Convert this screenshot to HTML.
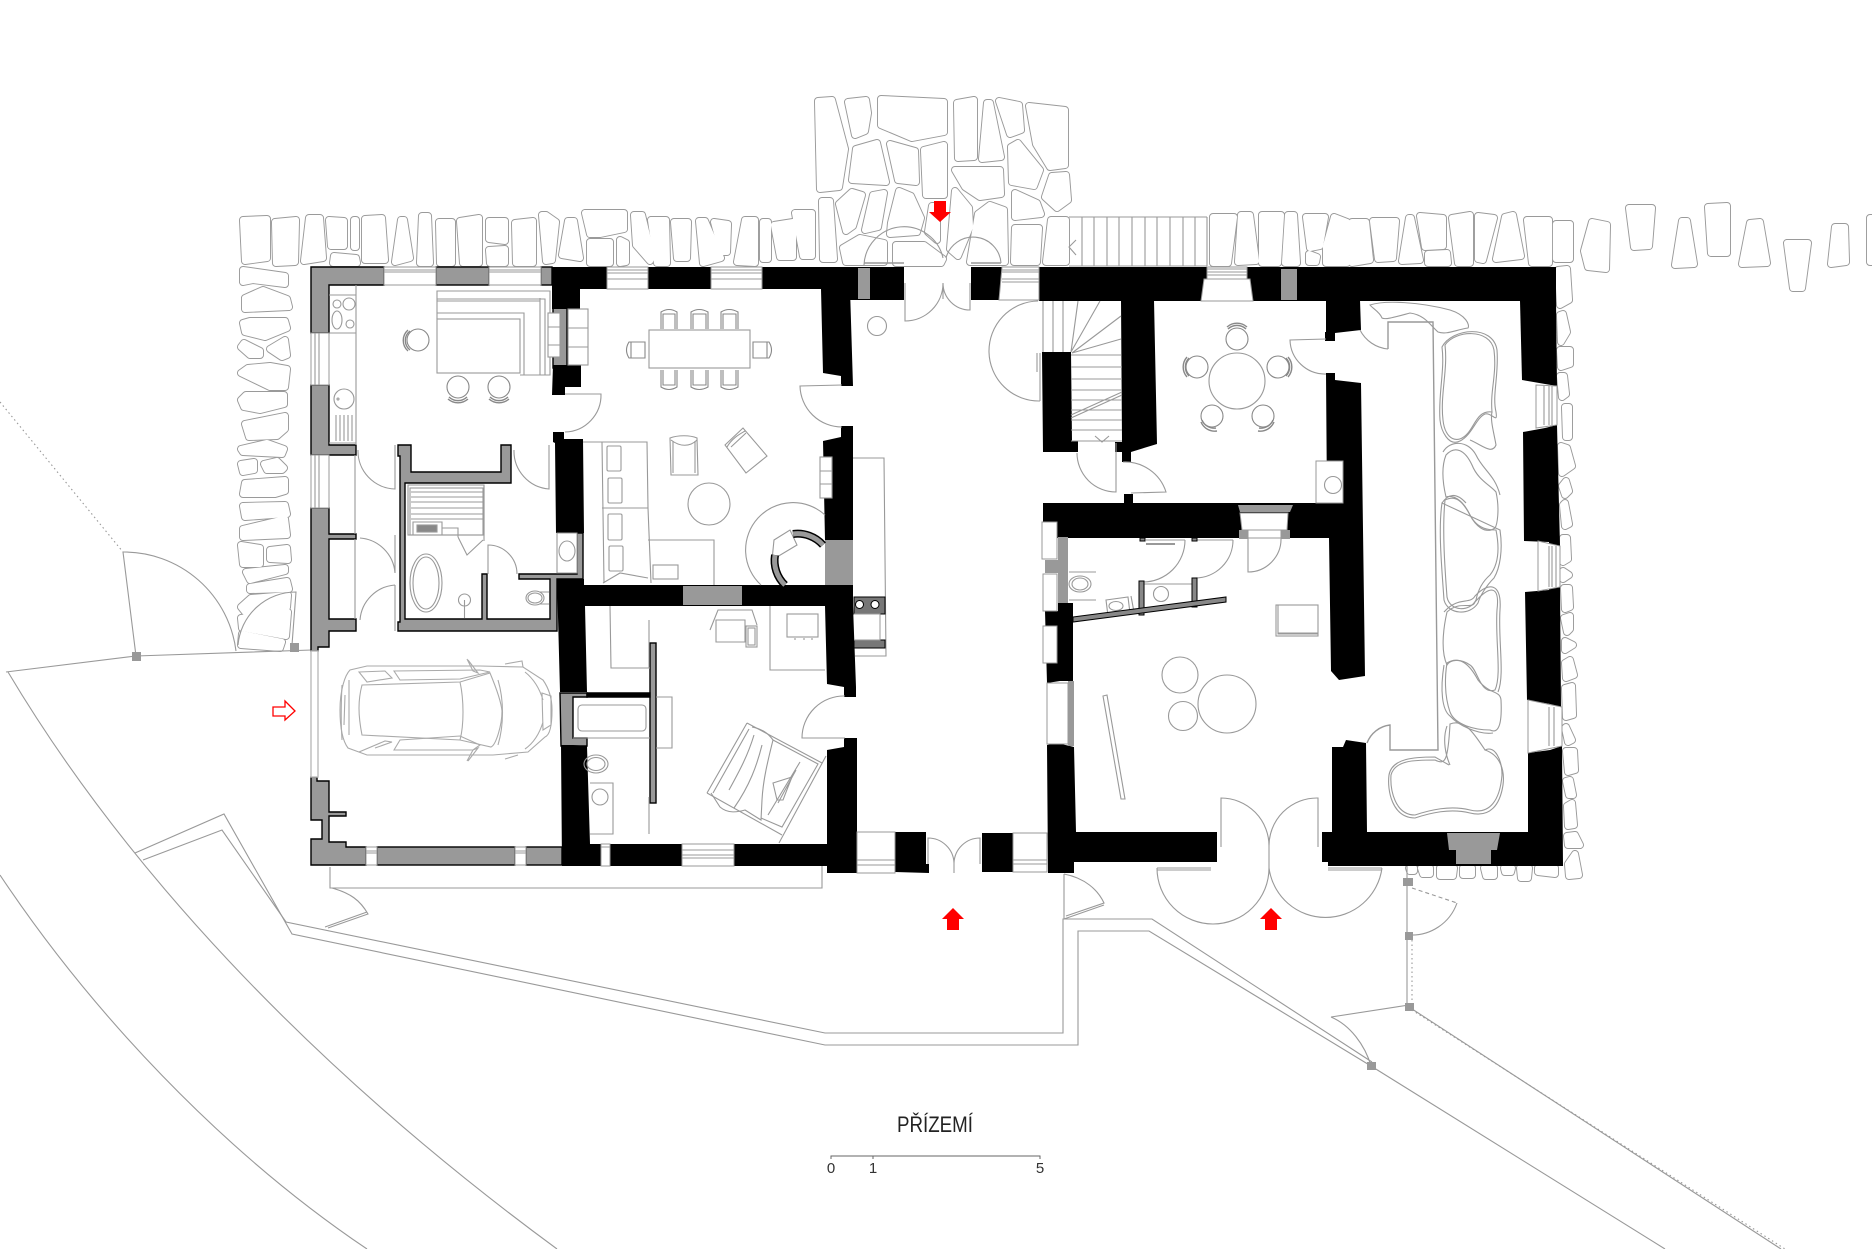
<!DOCTYPE html>
<html lang="cs"><head><meta charset="utf-8"><title>Přízemí</title>
<style>html,body{margin:0;padding:0;background:#fff}svg{display:block}</style></head>
<body>
<svg xmlns="http://www.w3.org/2000/svg" width="1872" height="1249" viewBox="0 0 1872 1249">
<rect width="1872" height="1249" fill="#fff"/>
<defs>
<g id="st">
<!-- top row west -->
<polygon points="243,220 267,219 267,258 245,261"/><polygon points="275,222 296,220 295,262 276,263"/><polygon points="309,218 320,218 323,258 304,261"/><polygon points="329,220 344,221 344,246 331,246"/><polygon points="354,220 356,220 356,247 354,247"/><polygon points="365,219 382,218 385,260 365,260"/><polygon points="334,256 356,258 357,263 333,263"/><polygon points="401,220 404,220 410,258 395,262"/><polygon points="422,216 428,216 430,263 420,263"/><polygon points="439,222 452,222 452,263 440,263"/><polygon points="460,221 479,218 479,263 463,263"/><polygon points="489,221 505,221 505,241 489,239"/><polygon points="489,250 505,249 505,263 490,263"/><polygon points="515,223 533,221 533,263 516,263"/><polygon points="542,215 546,215 556,222 552,260 546,261"/><polygon points="568,221 574,221 580,258 562,255"/><polygon points="585,213 624,213 624,229 600,234 590,234"/><polygon points="590,242 610,242 610,263 590,263"/><polygon points="620,240 626,243 626,262 620,263"/><polygon points="634,215 642,215 652,256 650,261 636,245"/><polygon points="651,220 666,220 667,263 657,263"/><polygon points="674,222 688,222 687,258 677,258"/><polygon points="699,221 705,221 721,258 703,263"/><polygon points="714,222 728,224 727,252 722,252"/><polygon points="745,220 755,220 755,263 737,262"/><polygon points="763,222 768,222 768,259 763,259"/><polygon points="774,225 793,222 793,257 780,257"/><polygon points="795,213 812,213 812,256 803,256"/>
<!-- block above door -->
<polygon points="818,101 832,100 845,149 839,187 820,189"/><polygon points="848,102 866,100 868,113 865,131 855,135"/><polygon points="881,99 944,102 944,132 912,138 881,125"/><polygon points="856,149 877,143 886,182 852,180"/><polygon points="890,144 915,151 916,182 898,180"/><polygon points="924,150 944,145 944,195 926,195"/><polygon points="957,103 974,100 974,157 958,158"/><polygon points="987,103 990,103 1001,157 982,159"/><polygon points="999,101 1019,105 1021,130 1010,134"/><polygon points="1029,106 1065,110 1065,165 1050,167 1036,144"/><polygon points="1018,143 1040,170 1034,186 1012,182 1011,147"/><polygon points="955,170 1000,170 1001,194 980,197 965,187"/><polygon points="1052,176 1066,175 1068,200 1057,208 1045,197"/><polygon points="822,201 830,201 834,259 823,259"/><polygon points="852,192 862,195 853,226 846,231 839,204"/><polygon points="873,195 884,193 878,227 865,230"/><polygon points="899,191 911,196 921,218 917,232 890,234 891,223"/><polygon points="932,206 937,206 937,240 928,232"/><polygon points="955,191 969,208 970,227 958,256 950,249"/><polygon points="1015,193 1037,203 1041,214 1015,217"/><polygon points="978,214 990,205 1004,210 1005,262 970,262"/><polygon points="1015,228 1039,228 1037,262 1014,262"/><polygon points="1051,220 1066,220 1066,262 1046,262"/><polygon points="843,248 860,238 884,243 884,262 846,262"/><polygon points="896,245 924,245 943,259 941,263 896,263"/>
<!-- top row east -->
<polygon points="1213,217 1234,217 1228,263 1213,263"/><polygon points="1241,215 1250,215 1256,261 1238,262"/><polygon points="1262,215 1281,215 1278,263 1262,263"/><polygon points="1288,215 1294,215 1297,263 1285,263"/><polygon points="1306,217 1325,217 1320,246 1310,248"/><polygon points="1309,254 1317,257 1316,262 1309,262"/><polygon points="1334,217 1347,222 1347,263 1326,263 1326,246"/><polygon points="1352,222 1366,222 1370,260 1352,263"/><polygon points="1373,221 1396,221 1393,258 1378,259"/><polygon points="1409,218 1411,218 1420,260 1402,261"/><polygon points="1420,216 1443,218 1443,246 1425,247"/><polygon points="1428,254 1447,253 1448,263 1428,263"/><polygon points="1452,218 1470,215 1470,263 1458,263"/><polygon points="1478,216 1494,218 1483,260 1478,259"/><polygon points="1505,217 1513,215 1521,256 1496,259"/><polygon points="1527,220 1549,220 1549,263 1532,263"/><polygon points="1556,224 1570,224 1570,259 1556,259"/><polygon points="1592,222 1607,225 1606,269 1588,267 1584,251"/><polygon points="1629,208 1652,208 1649,246 1634,247"/><polygon points="1682,221 1687,221 1694,264 1675,265"/><polygon points="1708,207 1727,206 1727,253 1711,253"/><polygon points="1750,223 1760,222 1767,263 1742,264"/><polygon points="1787,243 1808,243 1802,288 1793,288"/><polygon points="1835,227 1845,227 1846,262 1831,264"/><polygon points="1870,218 1880,218 1880,262 1870,262"/>
<!-- east column -->
<polygon points="1558,270 1567,269 1569,300 1560,305"/><polygon points="1560,315 1563,314 1567,332 1561,342"/><polygon points="1560,350 1570,350 1570,364 1561,367"/><polygon points="1560,376 1564,376 1566,394 1562,397"/><polygon points="1565,407 1569,407 1569,437 1566,437"/><polygon points="1561,446 1567,448 1572,466 1562,473"/><polygon points="1562,486 1566,481 1569,491 1565,495"/><polygon points="1563,505 1565,503 1569,524 1565,526"/><polygon points="1563,538 1567,538 1568,559 1563,562"/><polygon points="1563,571 1569,575 1563,579"/><polygon points="1564,588 1569,588 1570,607 1565,609"/><polygon points="1564,618 1570,616 1570,629 1567,632"/><polygon points="1565,641 1573,645 1565,650"/><polygon points="1565,663 1570,660 1574,675 1566,678"/><polygon points="1565,688 1572,686 1573,715 1566,717"/><polygon points="1565,728 1566,727 1572,740 1568,742"/><polygon points="1566,751 1574,751 1575,770 1568,772"/><polygon points="1566,781 1570,780 1573,795 1569,795"/><polygon points="1567,806 1572,803 1574,825 1568,826"/><polygon points="1567,836 1575,835 1580,845 1568,845"/><polygon points="1568,864 1575,854 1579,875 1569,876"/>
<!-- bottom row east -->
<polygon points="1409,868 1414,868 1414,871 1410,871"/><polygon points="1421,868 1430,868 1430,874 1423,874"/><polygon points="1440,868 1454,868 1453,876 1440,876"/><polygon points="1463,868 1472,868 1472,875 1463,875"/><polygon points="1484,868 1494,868 1494,876 1486,876"/><polygon points="1504,868 1512,868 1511,872 1505,872"/><polygon points="1520,868 1529,868 1528,878 1521,878"/><polygon points="1538,868 1555,868 1555,874 1538,872"/>
<!-- west column -->
<polygon points="243,270 285,276 285,284 253,280 243,282"/><polygon points="245,298 263,290 287,299 289,307 245,309"/><polygon points="243,323 250,321 285,321 287,328 265,337 245,332"/><polygon points="241,347 244,343 260,351 260,355 250,355"/><polygon points="270,349 285,340 287,355 282,357"/><polygon points="241,373 248,368 270,366 287,369 285,387 270,387"/><polygon points="241,400 246,395 284,395 284,404 260,410 244,407"/><polygon points="245,424 285,416 285,429 277,436 249,437"/><polygon points="241,449 267,443 284,449 282,454 243,452"/><polygon points="241,464 254,462 254,470 243,472"/><polygon points="264,464 277,461 284,468 282,470 267,470"/><polygon points="245,483 285,480 285,491 275,494 243,494"/><polygon points="243,506 285,505 287,514 245,517"/><polygon points="243,529 285,519 287,535 243,537"/><polygon points="241,545 260,548 260,564 243,564"/><polygon points="270,550 287,548 288,560 270,559"/><polygon points="246,572 285,568 285,571 250,580"/><polygon points="250,587 287,581 289,589 250,590"/><polygon points="241,607 251,598 288,595 287,607 245,612"/><polygon points="241,618 288,612 286,636 242,628"/><polygon points="242,634 282,642 280,648 241,645"/>
</g>
</defs>
<use href="#st" fill="#9a9a9a" stroke="#9a9a9a" stroke-width="8" stroke-linejoin="round"/>
<use href="#st" fill="#fff" stroke="#fff" stroke-width="6.1" stroke-linejoin="round"/>

<g fill="none" stroke="#999" stroke-width="1.1">
<!-- stair stones -->
<path d="M1069,217H1207M1069,266H1207M1082,217V266M1094,217V266M1107,217V266M1119,217V266M1132,217V266M1145,217V266M1157,217V266M1170,217V266M1183,217V266M1195,217V266M1207,217V266M1076,240L1069,247L1076,255"/>
<!-- site lines -->
<path d="M6,672L136,656L312,650"/>
<path d="M8,672C120,860 300,1060 557,1249"/>
<path d="M0,875C90,1010 220,1150 367,1249"/>
<path d="M135,853L224,814L292,934L825,1045L1078,1045L1078,931L1149,931L1371,1066L1665,1249"/>
<path d="M143,860L222,830L286,922L825,1033L1063,1033L1063,919L1152,919L1372,1062"/>
<path d="M330,867V888H822V866"/>
<path d="M332,888C350,893 360,900 368,914L328,928M325,927L367,912"/>
<path d="M1064,874C1085,878 1098,890 1104,903L1066,916M1064,919L1104,905M1064,919V874"/>
<!-- left gates -->
<path d="M136,656L123,552A113,113 0 0 1 236,651"/>
<path d="M292,645L296,592A58,58 0 0 0 238,645"/>
<path stroke-dasharray="1.5 3" d="M0,402L123,552"/>
<!-- right gates -->
<path d="M1407,866V1007M1457,903A48,48 0 0 1 1409,935M1331,1017L1409,1005M1331,1017C1350,1025 1365,1045 1371,1066"/>
<path stroke-dasharray="4 3" d="M1412,888L1457,903"/>
<path stroke-dasharray="1.5 3" d="M1412,940V1005M1412,1010L1785,1249"/>
<path d="M1409,1007L1781,1249"/>
<!-- top door arcs -->
<path d="M864,265A40,40 0 0 1 943,258M946,258A28,28 0 0 1 1001,263"/>
<path stroke-width="1.6" d="M864,263H904M971,263H1001"/>
</g>
<g fill="#999"><rect x="290" y="643" width="9" height="9"/><rect x="132" y="652" width="9" height="9"/><rect x="1403" y="878" width="10" height="8"/><rect x="1405" y="932" width="8" height="8"/><rect x="1405" y="1003" width="9" height="8"/><rect x="1367" y="1062" width="9" height="8"/></g>

<!-- gray walls -->
<g fill="#999" stroke="#000" stroke-width="1.4">
<polygon points="311,267 384,267 384,285 329,285 329,333 311,333"/>
<rect x="436" y="267" width="53" height="18"/><rect x="541" y="267" width="11" height="18"/>
<polygon points="311,385 329,385 329,445 356,445 356,455 311,455"/>
<polygon points="311,508 329,508 329,534 356,534 356,539 329,539 329,619 356,619 356,631 329,631 329,647 318,647 318,651 311,651"/>
<polygon points="311,777 317,777 317,781 329,781 329,812 346,812 346,816 329,816 329,842 346,842 346,847 366,847 366,865 311,865 311,839 322,839 322,820 311,820"/>
<rect x="377" y="847" width="138" height="18"/><rect x="526" y="847" width="36" height="18"/>
<polygon points="398,445 411,445 411,472 501,472 501,445 511,445 511,483 405,483 405,619 482,619 482,574 487,574 487,619 550,619 550,579 519,579 519,574 577,574 577,533 583,533 583,579 557,579 557,631 398,631 398,622 400,622 400,456 398,456"/>
<rect x="553" y="308" width="14" height="60"/>
<polygon points="560,693 587,693 587,697 573,697 573,738 587,738 587,746 561,746"/>
<rect x="650" y="643" width="6" height="160"/>
<polygon points="587,693 650,693 650,697 587,697" fill="#000"/>
</g>
<rect x="311" y="651" width="7" height="126" fill="#fff" stroke="#bbb" stroke-width="1.4"/>

<!-- black walls -->
<g fill="#000">
<rect x="552" y="267" width="352" height="22"/><polygon points="850,289 904,289 904,300 850,300"/>
<polygon points="821,289 850,289 853,386 841,386 841,376 823,373"/>
<rect x="552" y="267" width="28" height="42"/>
<polygon points="553,365 581,365 581,387 565,387 565,395 552,395"/>
<polygon points="553,432 564,432 564,439 583,439 584,533 556,533 555,443 553,442"/>
<polygon points="557,579 584,579 584,585 853,585 853,606 585,606 587,692 560,692"/>
<polygon points="561,745 573,745 587,746 590,844 857,844 857,866 562,866"/>
<polygon points="825,606 853,606 856,687 856,697 844,697 844,687 827,684"/>
<polygon points="844,738 857,738 857,873 827,873 827,750 844,747"/>
<polygon points="823,441 841,437 841,426 853,426 853,540 825,540"/>
<polygon points="895,832 926,832 926,864 929,864 929,873 895,872"/>
<polygon points="971,267 1002,267 999,300 971,300"/>
<rect x="1039" y="267" width="517" height="34"/>
<polygon points="1121,300 1154,300 1157,444 1131,452 1131,462 1122,462 1122,452 1115,452 1115,442 1122,442"/>
<polygon points="1042,352 1071,352 1072,441 1078,441 1078,452 1043,452"/>
<rect x="1043" y="503" width="300" height="35"/><rect x="1124" y="494" width="9" height="10"/>
<polygon points="1326,300 1360,300 1361,330 1335,333 1335,341 1325,341 1325,332 1326,332"/>
<polygon points="1326,373 1335,373 1335,380 1361,383 1365,676 1339,680 1331,671 1329,538 1327,503"/>
<polygon points="1045,611 1058,611 1058,603 1073,603 1073,681 1060,681 1047,683"/>
<polygon points="1047,745 1057,743 1074,747 1076,832 1217,832 1217,862 1074,862 1074,873 1048,873"/>
<polygon points="1322,832 1332,832 1332,747 1343,747 1346,740 1366,743 1367,832 1528,832 1528,753 1550,750 1562,746 1563,866 1328,866 1328,862 1322,862"/>
<rect x="982" y="833" width="31" height="39"/>
<polygon points="1520,301 1556,301 1557,386 1545,384 1522,380"/>
<polygon points="1523,432 1545,428 1557,425 1560,546 1549,546 1549,542 1524,541"/>
<polygon points="1525,592 1549,590 1549,587 1560,587 1561,707 1550,704 1527,700"/>
</g>
<!-- gray in black -->
<g fill="#999">
<rect x="683" y="586" width="59" height="19"/><rect x="858" y="268" width="12" height="31"/><rect x="1281" y="269" width="16" height="31"/>
<rect x="825" y="540" width="28" height="45"/>
<polygon points="1238,505 1293,505 1290,512 1240,512"/>
<rect x="1239" y="530" width="9" height="9"/><rect x="1281" y="530" width="9" height="9"/>
<polygon points="1447,833 1500,833 1497,850 1491,850 1491,864 1456,864 1456,850 1449,850"/>
<rect x="1058" y="537" width="10" height="66"/><rect x="1045" y="560" width="23" height="13"/><rect x="1068" y="681" width="6" height="65"/>
</g>
<!-- windows -->
<g fill="#fff" stroke="#999" stroke-width="1">
<rect x="384" y="267" width="52" height="18"/><rect x="489" y="267" width="52" height="18"/>
<rect x="607" y="267" width="41" height="22"/><rect x="711" y="267" width="51" height="22"/>
<rect x="311" y="333" width="18" height="52"/><rect x="311" y="455" width="18" height="53"/>
<rect x="366" y="847" width="11" height="18"/><rect x="515" y="847" width="11" height="18"/>
<rect x="601" y="844" width="9" height="22"/><rect x="682" y="844" width="52" height="22"/>
<rect x="857" y="832" width="38" height="41"/><rect x="1013" y="833" width="34" height="39"/>
<rect x="1207" y="267" width="40" height="12"/>
<polygon points="1002,267 1039,267 1039,300 999,300"/>
<polygon points="1204,279 1250,279 1253,301 1201,301"/>
<polygon points="1240,513 1288,513 1287,530 1242,530"/><rect x="1248" y="530" width="33" height="8"/>
<rect x="1042" y="522" width="15" height="37"/><rect x="1043" y="574" width="14" height="37"/><rect x="1043" y="626" width="14" height="37"/>
<rect x="1047" y="683" width="21" height="61"/>
<rect x="1316" y="461" width="27" height="42"/>
<polygon points="1536,385 1557,386 1557,425 1536,428"/><polygon points="1538,541 1560,546 1560,587 1538,591"/><polygon points="1528,700 1562,707 1562,746 1528,753"/>
<rect x="557" y="533" width="20" height="40"/>
</g>
<g fill="none" stroke="#999" stroke-width="1.1">
<path d="M384,270H436M384,272H436M489,270H541M489,272H541M607,270H648M607,273H648M607,279H648M711,270H762M711,273H762M711,279H762"/>
<path d="M315,333V385M319,333V385M315,455V508M319,455V508"/>
<path d="M366,851H377M366,853H377M515,851H526M515,853H526M601,847H610M682,850H734M682,855H734M682,858H734M857,860H895M857,865H895M1013,860H1047M1013,864H1047"/>
<path d="M1002,270H1039M1002,272H1039M1002,279H1039M1002,282H1039M1207,269H1247M1207,272H1247M1207,275H1247"/>
<path d="M1544,386V425M1549,386V425M1552,386V425M1549,546V587M1552,546V587M1556,546V587M1549,707V746M1554,707V746"/>
</g>

<!-- interior lines -->
<g fill="none" stroke="#999" stroke-width="1.1">
<!-- kitchen -->
<path d="M356,285V445M329,295H356M329,333H356M355,455V534M355,539V619"/>
<circle cx="337" cy="304" r="4"/><circle cx="349" cy="304" r="6"/><ellipse cx="337" cy="320" rx="5" ry="9"/><circle cx="350" cy="324" r="4"/><circle cx="344" cy="399" r="10"/><circle cx="338" cy="399" r="1"/>
<path d="M336,415V441M340,415V441M344,415V441M348,415V441M352,415V441M329,443H356"/>
<rect x="437" y="319" width="83" height="54"/>
<path d="M437,319V291H550V375H545V299H437M540,375V298M437,301H540V375M524,375V313H437M520,375H545"/>
<!-- benches -->
<g fill="#fff"><rect x="548" y="313" width="12" height="44"/><rect x="568" y="309" width="20" height="56"/></g>
<path d="M548,327H560M548,345H560M568,328H588M568,347H588"/>
<!-- doors west -->
<path d="M395,445V489A38,38 0 0 1 358,450M549,445V489A38,38 0 0 1 514,450"/>
<path d="M395,535V573A38,38 0 0 0 360,538M395,585V631M395,585A38,38 0 0 0 360,620"/>
<path d="M565,394H601A37,37 0 0 1 565,432"/>
<path d="M842,385L800,386A42,42 0 0 0 842,427"/>
<path d="M845,738H802A42,42 0 0 1 845,696"/>
<path d="M905,283V321A38,38 0 0 0 943,283V299M970,283V310A27,27 0 0 1 943,283"/>
<circle cx="877" cy="326" r="9.5"/>
<path d="M928,864V838A26,26 0 0 1 954,863V873M980,864V838A26,26 0 0 0 954,863"/>
<!-- dining -->
<rect x="649" y="330" width="101" height="38"/>
<!-- living -->
<path d="M583,442H647L648,508L651,583M602,442L604,583M602,508H648M648,540H714V585M603,583L620,573L648,578"/>
<rect x="607" y="446" width="14" height="25" rx="1.5"/><rect x="608" y="478" width="14" height="25" rx="1.5"/><rect x="608" y="514" width="14" height="26" rx="1.5"/><rect x="609" y="546" width="14" height="25" rx="1.5"/>
<rect x="653" y="565" width="25" height="14"/>
<path d="M671,475L670,438C678,435 690,435 697,438L698,475ZM673,473V441M695,473V441M671,440C680,447 690,447 697,440"/>
<path d="M725,445L743,428L767,456L746,473ZM727,447C732,438 740,434 745,431M731,447L746,433"/>
<circle cx="709" cy="504" r="21"/>
<path d="M761,585A45,45 0 0 1 825,515"/>
<rect x="820" y="457" width="12" height="41" fill="#fff"/><path d="M820,471H832M820,484H832"/>
<polygon points="774,540 790,530 797,545 772,560" fill="#fff"/>
<!-- console -->
<path d="M853,458H884L886,656H855"/>
<!-- bedroom -->
<path d="M770,606V670H825"/><rect x="787" y="614" width="31" height="23"/><path d="M795,638V640M804,638V640M812,638V640"/>
<path d="M710,630L718,610H752L757,625M716,620H745V642H716Z"/><rect x="746" y="626" width="11" height="21"/><rect x="748" y="628" width="7" height="17"/>
<path d="M610,606L611,668H650M649,620V668"/>
<rect x="578" y="705" width="68" height="26" rx="4"/><path d="M573,738H650"/>
<path d="M656,697H672V748H656"/>
<ellipse cx="596" cy="764" rx="12" ry="9"/><ellipse cx="596" cy="764" rx="9" ry="6.5"/>
<circle cx="600" cy="797" r="8"/><path d="M590,783H613V834H590"/><path d="M649,797V834"/>
<!-- bed -->
<path d="M747,723L822,763M707,793L782,835M747,723L707,793M826,756L779,843"/>
<path d="M749,729L713,793M752,727C762,729 768,733 773,740C768,760 763,780 762,800L761,820L745,810C738,812 728,814 720,807L711,793"/>
<path d="M754,735C748,755 740,770 729,790M762,745C757,765 750,785 734,808M773,740L818,764L782,827L761,818"/>
<path d="M773,783L792,777L788,787L783,800L777,800ZM778,803L796,770M768,815L800,762"/>
<!-- stair -->
<path d="M1043,301V352M1053,301V352M1063,301V352M1071,352L1078,301M1071,352L1100,301M1072,353L1121,316M1072,353L1121,339M1071,355H1121M1071,367H1122M1071,379H1122M1071,390H1122M1071,400H1122M1071,410H1122M1071,420H1122M1071,430H1122M1071,441H1122M1071,415L1122,392M1071,418L1122,395"/>
<path d="M1095,436L1102,442L1109,436"/>
<path d="M1038,301A50,50 0 0 0 1040,401M1040,353V401M1037,353V372"/>
<path d="M1077,453A39,39 0 0 0 1116,492V443"/>
<path d="M1123,462A43,43 0 0 1 1166,492L1131,493"/>
<!-- round table -->
<circle cx="1237" cy="381" r="28"/>
<!-- doors east -->
<path d="M1326,339L1290,340A35,35 0 0 0 1326,374"/>
<circle cx="1333" cy="485" r="8.5"/>
<path d="M1185,540A42,42 0 0 1 1143,582M1146,540H1185M1233,540A38,38 0 0 1 1195,578M1196,540H1233"/>
<path d="M1281,538A33,33 0 0 1 1248,572V538H1281"/>
<path d="M1221,847V798A48,48 0 0 1 1269,847V868M1318,847V798A48,48 0 0 0 1269,847"/>
<path d="M1157,868A56,56 0 0 0 1269,868A57,57 0 0 0 1382,868M1157,868H1211M1328,868H1382M1157,870H1211M1328,870H1382"/>
<path d="M1069,572H1096M1069,600H1096" /><ellipse cx="1080" cy="584" rx="11" ry="8"/><ellipse cx="1080" cy="584" rx="8" ry="6"/>
<polygon points="1106,600 1128,597 1130,613 1108,616"/><ellipse cx="1116" cy="606" rx="7" ry="4.5"/><path d="M1131,596L1134,612"/>
<path d="M1144,584H1192M1144,584V607"/><circle cx="1161" cy="594" r="7.5"/>
<path stroke-width="2" d="M1146,544H1175"/>
<rect x="1276" y="605" width="42" height="31"/><path d="M1278,605V634H1318M1278,633H1318"/>
<circle cx="1180" cy="675" r="18"/><circle cx="1227" cy="704" r="29"/><circle cx="1183" cy="716" r="14.5"/>
<polygon points="1103,696 1107,695 1125,799 1121,799"/>
<!-- planter -->
<path stroke-width="1.4" d="M1388,349V322H1433L1438,750H1390V725A28,28 0 0 0 1367,743"/>
<path d="M1360,330A35,35 0 0 0 1388,349"/>
<path id="p0" d="M1370,305C1385,300 1420,302 1450,310C1466,315 1470,325 1468,328C1455,330 1447,335 1438,332C1430,325 1425,315 1410,313C1395,317 1385,320 1382,318C1380,312 1372,308 1370,305Z"/>
<path d="M1445,345C1455,330 1490,328 1494,350C1497,375 1490,390 1492,412C1478,410 1475,425 1468,433C1458,445 1445,440 1443,420C1440,395 1448,370 1445,345Z"/>
<path d="M1442,347C1452,328 1493,324 1497,350C1499,375 1492,395 1496,412C1498,425 1492,412 1485,414C1476,418 1472,435 1460,441C1448,447 1441,430 1440,420C1438,395 1445,370 1442,347Z"/>
<path d="M1446,455C1455,445 1465,450 1472,465C1478,480 1490,485 1496,492C1500,510 1497,525 1495,528C1485,535 1475,525 1470,515C1462,498 1452,495 1446,497C1442,480 1442,465 1446,455Z"/>
<path d="M1443,452C1450,440 1468,440 1476,455C1483,470 1495,475 1500,495M1470,440C1482,445 1492,455 1496,445C1494,433 1490,420 1492,412"/>
<path d="M1445,500C1455,495 1462,500 1470,515C1478,530 1490,530 1496,530C1500,550 1498,565 1490,575C1482,582 1478,590 1476,600C1470,612 1450,612 1447,597C1445,570 1442,530 1445,500Z"/>
<path d="M1442,503C1448,494 1456,492 1466,503M1500,530C1503,550 1500,568 1494,578C1486,586 1480,596 1478,603C1470,616 1448,615 1444,600C1442,570 1438,530 1442,503Z"/>
<path d="M1447,612C1460,600 1472,610 1475,602C1490,585 1500,585 1497,610C1495,640 1502,675 1495,690C1480,695 1478,670 1470,665C1460,658 1450,660 1447,665C1440,650 1444,625 1447,612Z"/>
<path d="M1444,612C1458,596 1470,605 1475,596C1488,582 1502,582 1500,610C1498,640 1505,675 1498,692"/>
<path d="M1447,663C1460,655 1470,665 1478,680C1490,695 1500,690 1501,700C1502,720 1500,735 1490,730C1475,730 1455,725 1450,712C1444,695 1445,675 1447,663Z"/>
<path d="M1444,665C1440,690 1442,710 1450,716C1458,725 1478,735 1493,733"/>
<path d="M1450,724C1465,718 1475,735 1485,750C1495,745 1502,760 1502,775C1500,800 1490,815 1470,810C1450,805 1430,810 1415,815C1395,815 1390,790 1391,775C1395,760 1415,760 1435,760C1445,765 1448,762 1450,724Z"/>
<path d="M1447,726C1442,740 1446,756 1450,765M1485,750C1500,755 1505,770 1503,785C1500,805 1490,818 1470,813C1450,808 1430,813 1415,818C1392,818 1387,790 1389,775C1392,758 1415,757 1435,757L1449,765"/>
<!-- car -->
<g stroke="#aaa"><path d="M340,710C340,690 345,675 350,670L367,666H480L523,667L543,680C550,690 552,700 552,710C552,725 550,735 545,737L528,752L493,755H367L348,748C342,740 340,725 340,710Z"/>
<path d="M342,685C341,705 341,725 342,740M345,695L344,725M349,680V735"/>
<path d="M362,685L460,682L490,673C495,685 501,700 502,711C502,725 496,745 491,747L460,740L362,735C358,715 358,700 362,685Z"/>
<path d="M460,682C464,700 464,725 460,740M498,680C504,700 504,725 498,745"/>
<path d="M359,672L385,671L392,678L367,682ZM394,671L480,670L490,672L460,679L400,680ZM359,752L385,741L392,742L375,748M394,750L400,740L460,736L480,745L473,750Z"/>
<path d="M467,659L473,671L478,673L468,660M467,761L473,750L478,748L468,761M505,664L522,661L523,667M505,759L518,755"/>
<path d="M542,693L551,696V725L543,730ZM525,672C535,680 540,690 543,700M525,749C535,742 540,732 543,722"/></g>
</g>

<!-- sauna / bath interior -->
<g fill="none" stroke="#999" stroke-width="1.1">
<rect x="408" y="485" width="76" height="50"/><rect x="410" y="488" width="73" height="47"/>
<path d="M411,492H483M411,497H483M411,502H483M411,508H483M411,514H483M411,519H483M413,522H442V535H413ZM442,528H458V537M484,485V541M458,537L467,555L483,540"/>
<rect x="417" y="525" width="20" height="7" fill="#888"/>
<ellipse cx="426" cy="583" rx="16" ry="29"/><ellipse cx="426" cy="583" rx="13" ry="26"/>
<circle cx="464.5" cy="600" r="6"/><path d="M464.5,600V618"/>
<path d="M488,574V545A29,29 0 0 1 517,574"/>
<ellipse cx="535" cy="598" rx="9" ry="7"/><ellipse cx="535" cy="598" rx="7" ry="5"/><path d="M549,592H540M549,604H540"/>
<ellipse cx="567" cy="551" rx="8" ry="10"/><path d="M557,573V533"/>
</g>
<g fill="#fff" stroke="#000" stroke-width="1">
<rect x="854" y="597" width="31" height="17" fill="#777"/><circle cx="859.5" cy="604.5" r="4"/><circle cx="875" cy="604.5" r="4"/>
<path d="M854,640H885V648H854Z" fill="#777" stroke="#000"/>
</g>
<path d="M854,614H880V640H854" fill="none" stroke="#999"/>

<!-- stove ring -->
<path d="M793,534A34,34 0 0 1 823,545" fill="none" stroke="#000" stroke-width="8"/>
<path d="M793,534A34,34 0 0 1 823,545" fill="none" stroke="#999" stroke-width="5"/>
<path d="M775,555A34,34 0 0 0 785,585" fill="none" stroke="#000" stroke-width="8"/>
<path d="M775,555A34,34 0 0 0 785,585" fill="none" stroke="#999" stroke-width="5"/>

<!-- wc walls -->
<g fill="#888" stroke="#000" stroke-width="1">
<rect x="1139" y="581" width="5" height="34"/><rect x="1192" y="578" width="5" height="29"/>
<polygon points="1073,617 1226,597 1226,602 1073,622"/>
<rect x="1140" y="538" width="5" height="3"/><rect x="1192" y="538" width="5" height="3"/>
</g>

<!-- chairs -->
<g fill="none" stroke="#888" stroke-width="1.1">
<circle cx="418" cy="340" r="11"/><path d="M410,331A12,12 0 0 0 410,350M408,330A14,14 0 0 0 408,351" stroke-width="1.4"/>
<circle cx="458" cy="387" r="11"/><path d="M449,397A13,13 0 0 0 467,397M448,399A15,15 0 0 0 468,399" stroke-width="1.4"/>
<circle cx="499" cy="387" r="11"/><path d="M490,397A13,13 0 0 0 508,397M489,399A15,15 0 0 0 509,399" stroke-width="1.4"/>
<circle cx="1237" cy="339" r="11"/><path d="M1228,329A13,13 0 0 1 1246,329M1227,327A15,15 0 0 1 1247,327" stroke-width="1.4"/>
<circle cx="1197" cy="367" r="11"/><path d="M1189,358A13,13 0 0 0 1189,376M1187,357A15,15 0 0 0 1187,377" stroke-width="1.4"/>
<circle cx="1278" cy="367" r="11"/><path d="M1286,358A13,13 0 0 1 1286,376M1288,357A15,15 0 0 1 1288,377" stroke-width="1.4"/>
<circle cx="1212" cy="416" r="11"/><path d="M1202,420A13,13 0 0 0 1216,428M1201,422A15,15 0 0 0 1217,431" stroke-width="1.4"/>
<circle cx="1263" cy="416" r="11"/><path d="M1273,420A13,13 0 0 1 1259,428M1274,422A15,15 0 0 1 1258,431" stroke-width="1.4"/>
<!-- dining chairs -->
<path d="M661,329V312Q669,307 677,312V329M663,329V314H675V329"/><path d="M691,329V312Q699,307 708,312V329M693,329V314H706V329"/><path d="M721,329V312Q729,307 738,312V329M723,329V314H736V329"/>
<path d="M661,370V387Q669,392 677,387V370M663,370V385H675V370"/><path d="M691,370V387Q699,392 708,387V370M693,370V385H706V370"/><path d="M721,370V387Q729,392 738,387V370M723,370V385H736V370"/>
<path d="M645,342H629Q624,350 629,358H645ZM631,342V358"/><path d="M753,342H769Q774,350 769,358H753ZM767,342V358"/>
</g>

<!-- red arrows -->
<g fill="#f00">
<polygon points="934,201 946,201 946,212 951,212 940,222 929,212 934,212"/>
<polygon points="953,908 964,919 959,919 959,930 947,930 947,919 942,919"/>
<polygon points="1271,908 1282,919 1277,919 1277,930 1265,930 1265,919 1260,919"/>
</g>
<polygon points="273,707 285,707 285,701 295,711 285,720 285,716 273,716" fill="#fff" stroke="#f00" stroke-width="1.3"/>

<!-- title & scale -->
<text x="897" y="1132" font-family="'Liberation Sans',sans-serif" font-size="22" fill="#222" textLength="76" lengthAdjust="spacingAndGlyphs">PŘÍZEMÍ</text>
<path d="M831,1159V1156H1040V1159M873,1156V1159" fill="none" stroke="#666" stroke-width="1"/>
<g font-family="'Liberation Sans',sans-serif" font-size="15" fill="#333" text-anchor="middle"><text x="831" y="1173">0</text><text x="873" y="1173">1</text><text x="1040" y="1173">5</text></g>
</svg>
</body></html>
